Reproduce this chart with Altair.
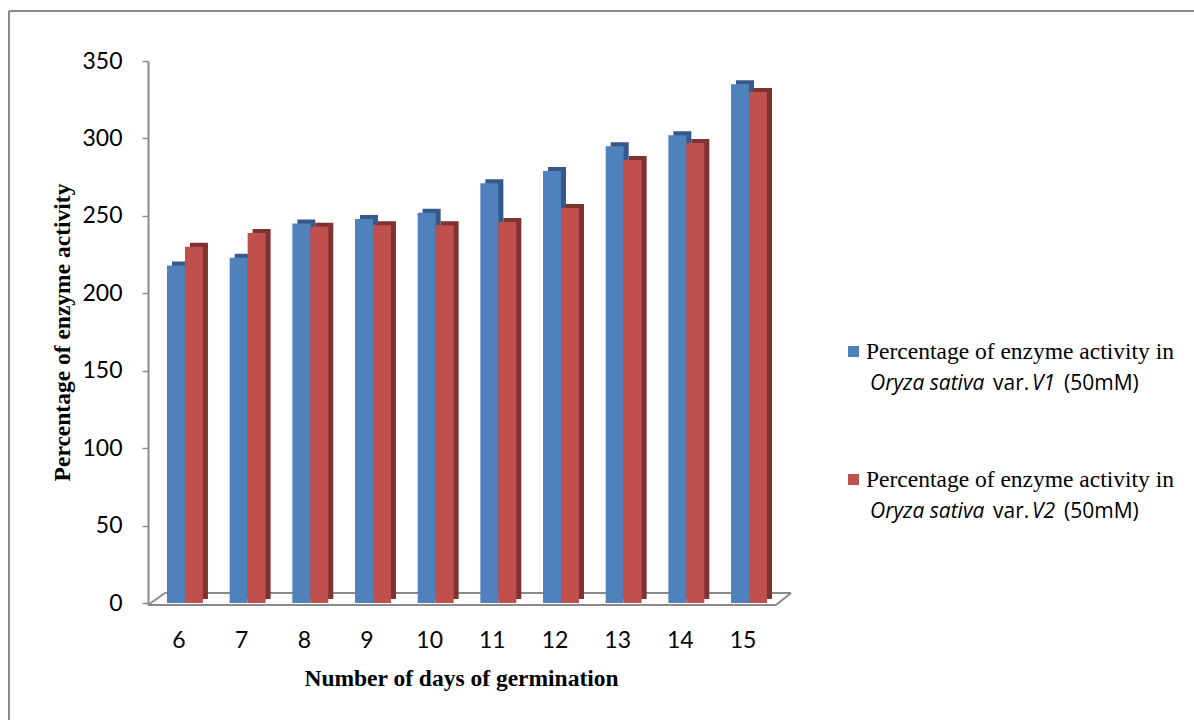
import altair as alt
import pandas as pd

# Germination days and enzyme activity (%) for the two rice varieties
days = [6, 7, 8, 9, 10, 11, 12, 13, 14, 15]
activity_v1 = [218, 223, 245, 248, 252, 271, 279, 295, 302, 335]
activity_v2 = [230, 239, 243, 244, 244, 246, 255, 286, 297, 330]
series = ["V1", "V2"]
face_colors = ["#4f81bd", "#c0504d"]
depth_colors = ["#36598a", "#7f3331"]
y_ticks = [0, 50, 100, 150, 200, 250, 300, 350]

legend_line1 = "Percentage of enzyme activity in"
legend_species = "Oryza sativa"
legend_var = "var."
legend_conc = "(50mM)"

rows = []
for d, a, b in zip(days, activity_v1, activity_v2):
    rows.append({"day": d, "series": series[0], "value": a})
    rows.append({"day": d, "series": series[1], "value": b})
df = pd.DataFrame(rows)

W, H = 638, 542
LEFT, TOP = 148, 61
SANS = "Lato"
LEGEND_SANS = "Open Sans"
SERIF = "Liberation Serif"
GRAY = "#8a8a8a"

band = dict(paddingInner=0.426, paddingOuter=0.303)

y_enc = alt.Y(
    "value:Q",
    scale=alt.Scale(domain=[0, 350], nice=False),
    axis=alt.Axis(
        values=y_ticks, grid=False, domainColor=GRAY, domainWidth=2,
        tickColor=GRAY, tickSize=6, tickWidth=1.5, labelFont=SANS,
        labelFontSize=23, labelColor="black", labelPadding=20,
        title="Percentage of enzyme activity", titleFont=SERIF,
        titleFontSize=23.5, titleFontWeight="bold", titleColor="black",
        titleX=-79, titleY=271, titleAngle=270, titleAlign="center",
        titleBaseline="alphabetic",
    ),
)

# Depth faces: same bars on an x scale shifted right, lifted a few pixels
depth = alt.Chart(df).mark_bar(yOffset=-4).encode(
    x=alt.X("day:O", scale=alt.Scale(range=[5, W + 5], **band), axis=None),
    xOffset=alt.XOffset("series:N", scale=alt.Scale(paddingInner=0, paddingOuter=0)),
    y=y_enc,
    color=alt.Color("series:N", scale=alt.Scale(domain=series, range=depth_colors), legend=None),
)

front = alt.Chart(df).mark_bar().encode(
    x=alt.X(
        "day:O",
        scale=alt.Scale(range=[0, W], **band),
        axis=alt.Axis(
            domain=False, ticks=False, labelAngle=0, labelFont=SANS,
            labelFontSize=23, labelColor="black", labelPadding=26,
            labelOffset=-6, title="Number of days of germination",
            titleFont=SERIF, titleFontSize=23.5, titleFontWeight="bold",
            titleColor="black", titleX=313, titleY=82,
            titleBaseline="alphabetic",
        ),
    ),
    xOffset=alt.XOffset("series:N", scale=alt.Scale(paddingInner=0, paddingOuter=0)),
    y=y_enc,
    color=alt.Color("series:N", scale=alt.Scale(domain=series, range=face_colors), legend=None),
)

one = alt.Data(values=[{}])


def rule(x, y, x2, y2, color=GRAY, width=2):
    return alt.Chart(one).mark_rule(color=color, strokeWidth=width).encode(
        x=alt.value(x), y=alt.value(y), x2=alt.value(x2), y2=alt.value(y2)
    )


# Floor outline beneath the columns
floor = [
    rule(0, H + 2, W - 10, H + 2),
    rule(17, H - 10, W + 5, H - 10),
    rule(0, H + 2, 17, H - 10),
    rule(W - 10, H + 2, W + 5, H - 10),
]

# Frame around the figure
frame = [
    rule(9 - LEFT, 11 - TOP, 1194 - LEFT, 11 - TOP),
    rule(9 - LEFT, 11 - TOP, 9 - LEFT, 720 - TOP),
]


def text(x, y, s, font, style="normal", size=23):
    return alt.Chart(one).mark_text(
        align="left", baseline="alphabetic", font=font, fontSize=size,
        fontStyle=style, color="black",
    ).encode(x=alt.value(x), y=alt.value(y), text=alt.value(s))


legend = []
for i, (name, col) in enumerate(zip(series, face_colors)):
    dy = i * 128
    legend.append(
        alt.Chart(one).mark_rect(color=col).encode(
            x=alt.value(700), x2=alt.value(711),
            y=alt.value(285 + dy), y2=alt.value(296 + dy),
        )
    )
    legend.append(text(718, 298 + dy, legend_line1, SERIF, size=23.5))
    legend.append(text(722, 329 + dy, legend_species, LEGEND_SANS, "italic", 21))
    legend.append(text(845, 329 + dy, legend_var, LEGEND_SANS, "normal", 21))
    legend.append(text(884, 329 + dy, name, LEGEND_SANS, "italic", 21))
    legend.append(text(916, 329 + dy, legend_conc, LEGEND_SANS, "normal", 21))

chart = (
    alt.layer(*frame, *floor, depth, front, *legend)
    .resolve_scale(x="independent", color="independent")
    .properties(
        width=W,
        height=H,
        autosize=alt.AutoSizeParams(type="none"),
        padding={"left": LEFT, "top": TOP, "right": 1194 - LEFT - W, "bottom": 720 - TOP - H},
        background="white",
    )
    .configure_view(stroke=None)
)

chart.save("out.html", embed_options={"renderer": "svg", "actions": False})
